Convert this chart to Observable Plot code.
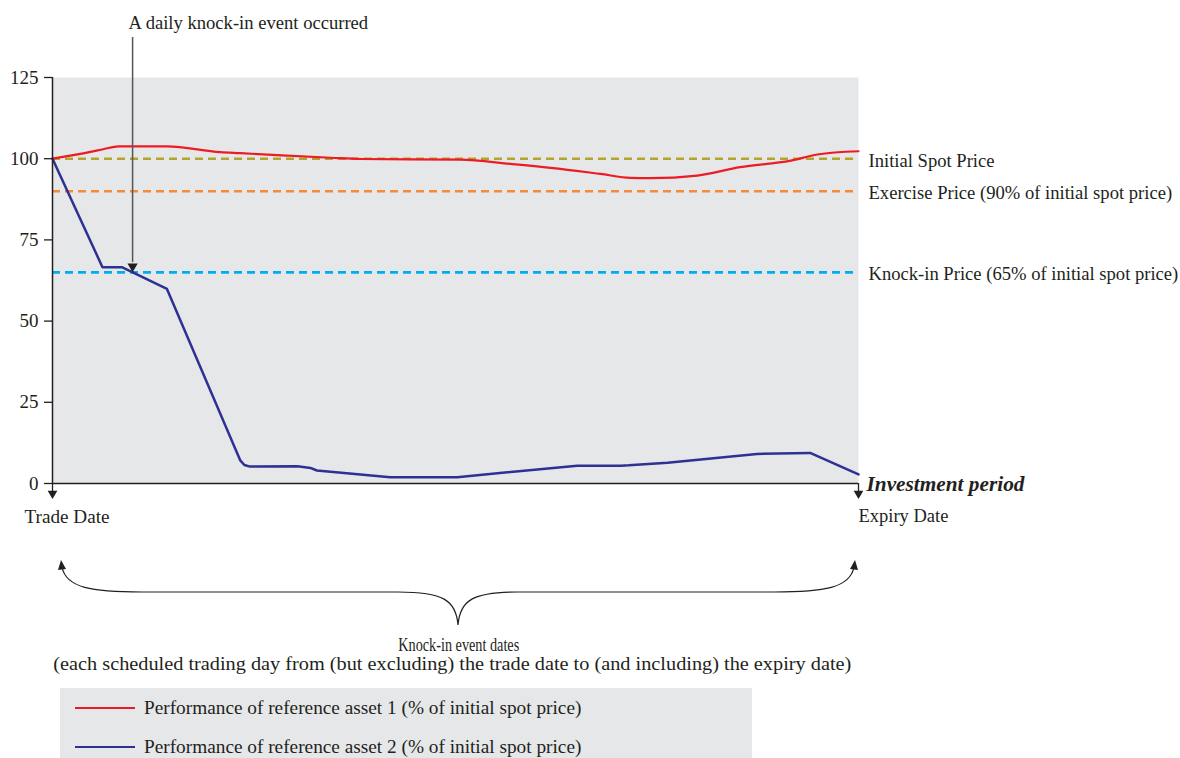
<!DOCTYPE html>
<html>
<head>
<meta charset="utf-8">
<script src="https://cdn.jsdelivr.net/npm/d3@7"></script>
<script src="https://cdn.jsdelivr.net/npm/@observablehq/plot@0.6"></script>
<style>
  html, body { margin: 0; padding: 0; background: #fff; }
  body { width: 1180px; height: 758px; overflow: hidden; font-family: "Liberation Serif", "DejaVu Serif", serif; color: #231f20; }
  #legend { position: relative; margin-left: 60px; width: 692px; height: 70px; background: #e6e7e9; }
  .row { position: absolute; left: 0; height: 20px; display: flex; align-items: center; font-size: 19.3px; white-space: nowrap; }
  .sw { width: 60px; height: 0; border-top: 2.5px solid; margin-left: 15px; margin-right: 9px; }
</style>
</head>
<body>
<div id="chart"></div>
<div id="legend"></div>
<script>
// ---- data (time axis: 0 = trade date, 100 = expiry date) ----
const asset1T = [0, 4.7, 6.4, 8.2, 14.2, 20.8, 23.3, 34.5, 38.2, 50.6, 56.8, 61.8, 68.0, 71.7, 74.2, 80.0, 85.3, 91.6, 94.9, 100];
const asset1V = [100, 102.1, 103.0, 103.8, 103.8, 102.0, 101.7, 100.3, 99.9, 99.7, 98.4, 97.2, 95.3, 94.1, 94.0, 94.8, 97.4, 99.4, 101.3, 102.3];
const asset2T = [0, 6.2, 8.6, 14.2, 23.3, 23.8, 24.5, 30.4, 32.0, 32.8, 41.9, 50.2, 65.1, 70.5, 71.5, 76.3, 87.4, 94.0, 100];
const asset2V = [100, 66.6, 66.6, 59.9, 7.1, 5.7, 5.2, 5.3, 4.8, 4.0, 1.95, 1.95, 5.5, 5.5, 5.6, 6.4, 9.1, 9.4, 2.8];

const levelValues = [100, 90, 65];
const levelColors = ["#b3a52c", "#f58a3a", "#00aeef"];
const levelLabels = ["Initial Spot Price", "Exercise Price (90% of initial spot price)", "Knock-in Price (65% of initial spot price)"];

const yTicks = [0, 25, 50, 75, 100, 125];
const seriesNames = ["Performance of reference asset 1 (% of initial spot price)", "Performance of reference asset 2 (% of initial spot price)"];
const seriesColors = ["#ed1c24", "#2e3192"];
const annotationText = "A daily knock-in event occurred";
const annotationTop = 137.3;
const knockInLevel = 65;
const captionLines = ["Knock-in event dates", "(each scheduled trading day from (but excluding) the trade date to (and including) the expiry date)"];

// ---- tables ----
const asset1 = asset1T.map((t, i) => ({t, v: asset1V[i]}));
const asset2 = asset2T.map((t, i) => ({t, v: asset2V[i]}));
const levels = levelValues.map((v, i) => ({v, color: levelColors[i], label: levelLabels[i]}));

// crossing of asset 2 with knock-in level (from data)
let crossT = 0;
for (let i = 1; i < asset2.length; i++) {
  const a = asset2[i - 1], b = asset2[i];
  if (a.v > knockInLevel && b.v <= knockInLevel) {
    crossT = a.t + (a.v - knockInLevel) / (a.v - b.v) * (b.t - a.t);
    break;
  }
}

const font = "Liberation Serif";
const ink = "#231f20";

// custom brace mark
function brace(index, scales) {
  const x = scales.x, y = scales.y;
  const L = x(0) + 10, R = x(100) - 4, M = (x(0) + x(100)) / 2 + 3;
  const y0 = y(0);
  const tip = y0 + 80, bar = y0 + 109, pt = y0 + 142;
  const g = d3.create("svg:g");
  const p = `M${L},${tip + 4} C${L + 4},${bar - 4} ${L + 30},${bar} ${L + 80},${bar}`
    + ` L${M - 60},${bar} C${M - 15},${bar} ${M - 2},${bar + 8} ${M},${pt}`
    + ` C${M + 2},${bar + 8} ${M + 15},${bar} ${M + 60},${bar}`
    + ` L${R - 80},${bar} C${R - 30},${bar} ${R - 4},${bar - 4} ${R},${tip + 4}`;
  g.append("path").attr("d", p).attr("fill", "none").attr("stroke", ink).attr("stroke-width", 1.2);
  g.append("path").attr("d", `M${L - 4},${tip + 7} L${L - 1},${tip - 3} L${L + 4},${tip + 6} Z`).attr("fill", ink);
  g.append("path").attr("d", `M${R - 4},${tip + 6} L${R + 1},${tip - 3} L${R + 4},${tip + 7} Z`).attr("fill", ink);
  return g.node();
}

const chart = Plot.plot({
  width: 1180,
  height: 688,
  marginLeft: 52,
  marginRight: 322,
  marginTop: 77,
  marginBottom: 205,
  style: {fontFamily: font, fontSize: "18px", color: ink, background: "#fff", overflow: "visible"},
  x: {domain: [0, 100], axis: null},
  y: {domain: [0, 125], axis: null},
  marks: [
    Plot.frame({fill: "#e6e7e9", stroke: null}),
    Plot.axisY({ticks: yTicks, tickSize: 8, tickPadding: 6, label: null, fontSize: 19, stroke: ink, strokeWidth: 1.3, fill: ink}),
    Plot.ruleY(levels, {y: "v", stroke: "color", strokeWidth: 2.6, strokeDasharray: "8,5"}),
    Plot.text(levels, {x: 100, y: "v", text: "label", dx: 10, dy: 2, textAnchor: "start", fontSize: 18.6, fill: ink}),
    Plot.line(asset1, {x: "t", y: "v", stroke: seriesColors[0], strokeWidth: 2.2, strokeLinejoin: "round", curve: "monotone-x"}),
    Plot.line(asset2, {x: "t", y: "v", stroke: seriesColors[1], strokeWidth: 2.5, strokeLinejoin: "round"}),
    // axes lines
    Plot.ruleX([0], {y1: 0, y2: 125, stroke: ink, strokeWidth: 1.5}),
    Plot.ruleY([0], {stroke: ink, strokeWidth: 1.5}),
    // down arrows at trade / expiry dates
    Plot.ruleX([0, 100], {y1: 0, y2: 0, stroke: ink, strokeWidth: 1.3, insetBottom: -8}),
    Plot.dot([0, 100], {x: d => d, y: 0, dy: 10, symbol: "triangle", rotate: 180, r: 3.6, fill: ink, stroke: null}),
    Plot.text(["Trade Date"], {x: 0, y: 0, dx: -28, dy: 33, textAnchor: "start", fontSize: 19.2, fill: ink}),
    Plot.text(["Expiry Date"], {x: 100, y: 0, dx: 0, dy: 33, textAnchor: "start", fontSize: 18.5, fill: ink}),
    Plot.text(["Investment period"], {x: 100, y: 0, dx: 8, dy: 1, textAnchor: "start", fontSize: 21.3, fontWeight: "bold", fontStyle: "italic", fill: ink}),
    // annotation arrow
    Plot.ruleX([crossT], {y1: knockInLevel + 3, y2: annotationTop, stroke: "#555", strokeWidth: 1.5}),
    Plot.dot([crossT], {x: d => d, y: knockInLevel, dy: -6, symbol: "triangle", rotate: 180, r: 3.8, fill: ink, stroke: null}),
    Plot.text([annotationText], {x: crossT, y: annotationTop, dx: -4, dy: -15, textAnchor: "start", fontSize: 18.6, fill: ink}),
    // brace + caption
    brace,
    Plot.text([captionLines[0]], {x: 50.4, y: 0, dy: 162, fontSize: 18, fill: ink, className: "cap1"}),
    Plot.text([captionLines[1]], {x: 49.6, y: 0, dy: 181, fontSize: 18, fill: ink, className: "cap2"})
  ]
});
document.getElementById("chart").appendChild(chart);
// fit caption widths to the reference typesetting
d3.select(chart).select(".cap1 text").attr("textLength", 121).attr("lengthAdjust", "spacingAndGlyphs");
d3.select(chart).select(".cap2 text").attr("textLength", 798).attr("lengthAdjust", "spacingAndGlyphs");

// legend
const legend = document.getElementById("legend");
seriesNames.forEach((name, i) => {
  const row = document.createElement("div");
  row.className = "row";
  row.style.top = (i === 0 ? 10 : 49) + "px";
  const sw = document.createElement("div");
  sw.className = "sw";
  sw.style.borderTopColor = seriesColors[i];
  const tx = document.createElement("span");
  tx.textContent = name;
  row.appendChild(sw);
  row.appendChild(tx);
  legend.appendChild(row);
});
</script>
</body>
</html>
